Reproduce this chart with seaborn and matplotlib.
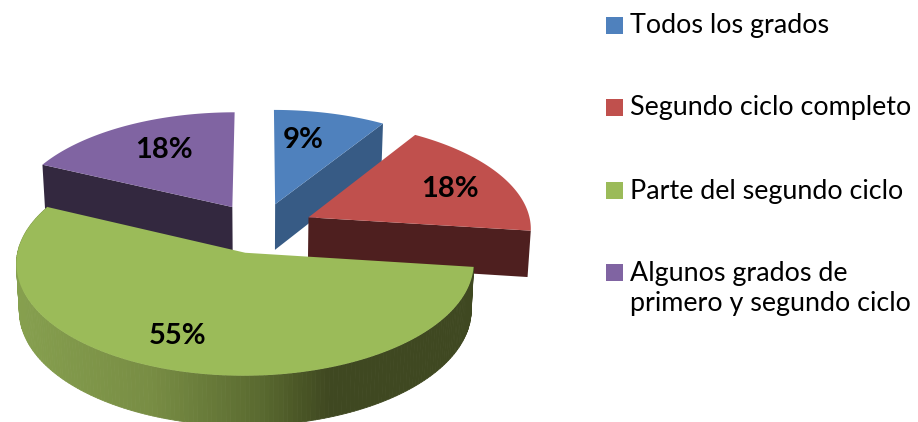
import numpy as np
import matplotlib
matplotlib.use("Agg")
import matplotlib.pyplot as plt
from matplotlib.colors import to_rgb
from matplotlib.patches import Rectangle
import seaborn as sns

categories = ["Todos los grados", "Segundo ciclo completo",
              "Parte del segundo ciclo", "Algunos grados de\nprimero y segundo ciclo"]
values = [9, 18, 55, 18]
labels = ["9%", "18%", "55%", "18%"]
top_hex = ["#4f81bd", "#c0504d", "#9bbb59", "#8064a2"]
wall_hex = ["#375b85", "#4e1f1f", "#3f4821", "#33283f"]

sns.set_theme(style="white")
plt.rcParams["font.family"] = ["Lato", "DejaVu Sans"]
top_colors = sns.color_palette(top_hex)
wall_colors = sns.color_palette(wall_hex)

# projection of the pie plane onto the page
CX, CY, AX_R, AY_R, FOC, EXPLODE_X, EXPLODE_Y, DEPTH = 260.5, 228.0, 223.0, 107.0, 11.0, 0.240, 0.236, 47.0


def project(X, Y, z=0.0):
    p = FOC / (FOC + Y)
    x = CX + AX_R * X * p * (1 - 0.012 * z)
    y = CY - AY_R * Y * p + z * DEPTH * (0.92 + 0.13 * (1 - Y) / 2)
    return x, y


def wedge(a0, a1, ox, oy, z=0.0, n=120):
    t = np.radians(np.linspace(a0, a1, n))
    X = np.r_[ox, ox + np.sin(t)]
    Y = np.r_[oy, oy + np.cos(t)]
    return project(X, Y, z)


fig = plt.figure(figsize=(9.18, 4.22), dpi=100)
ax = fig.add_axes([0, 0, 1, 1])
ax.set_xlim(0, 918)
ax.set_ylim(422, 0)
ax.axis("off")

edges = np.r_[0, np.cumsum(values)] * 3.6
geom = []
for i in range(4):
    mid = np.radians((edges[i] + edges[i + 1]) / 2)
    geom.append((edges[i], edges[i + 1], EXPLODE_X * np.sin(mid), EXPLODE_Y * np.cos(mid)))


def cut_wall(a, ox, oy, color, zo):
    t = np.radians(a)
    x0, y0 = project(ox, oy)
    x1, y1 = project(ox + np.sin(t), oy + np.cos(t))
    x2, y2 = project(ox + np.sin(t), oy + np.cos(t), 1)
    x3, y3 = project(ox, oy, 1)
    ax.fill([x0, x1, x2, x3], [y0, y1, y2, y3], color=color, lw=0, zorder=zo)


# blue, purple, red back to front, green last
for i, zo in ((0, 1), (3, 1), (1, 2)):
    a0, a1, ox, oy = geom[i]
    cut_wall(a0 if i == 3 else a1, ox, oy, wall_colors[i], zo)
    x, y = wedge(a0, a1, ox, oy)
    ax.fill(x, y, color=top_colors[i], lw=0, zorder=zo + 0.5)

# green outer wall, shaded along the arc
a0, a1, ox, oy = geom[2]
ang = np.linspace(a0, a1, 181)
shade_x = [0, 150, 260, 300, 330, 918]
shade_c = [np.array(to_rgb(c)) for c in ("#88a250", "#788d44", "#5a6a30", "#4a5626", "#3f4821", "#3f4821")]
for u, v in zip(ang[:-1], ang[1:]):
    tt = np.radians([u, v])
    xa, ya = project(ox + np.sin(tt), oy + np.cos(tt))
    xb, yb = project(ox + np.sin(tt), oy + np.cos(tt), 1)
    xm = xa.mean()
    col = [np.interp(xm, shade_x, [c[k] for c in shade_c]) for k in range(3)]
    ax.fill([xa[0], xa[1], xb[1], xb[0]], [ya[0], ya[1], yb[1], yb[0]],
            color=col, lw=0.6, zorder=3)
x, y = wedge(a0, a1, ox, oy)
ax.fill(x, y, color=top_colors[2], lw=0, zorder=4)

# percentage labels
label_pos = [(303, 140), (450, 189), (178, 336), (164, 150)]
for s, (lx, ly) in zip(labels, label_pos):
    ax.text(lx, ly, s, ha="center", va="center", fontsize=21, fontweight="bold",
            color="black", zorder=6)

# legend
legend_y = [25, 107, 190, 272]
for c, name, ly in zip(top_colors, categories, legend_y):
    ax.add_patch(Rectangle((606, ly - 8.5), 17, 17, color=c, lw=0, zorder=6))
    ax.text(630, ly - 11.5, name, ha="left", va="top", fontsize=19.4, color="black",
            linespacing=1.3, zorder=6)

fig.savefig("out.png", dpi=100, facecolor="white")
